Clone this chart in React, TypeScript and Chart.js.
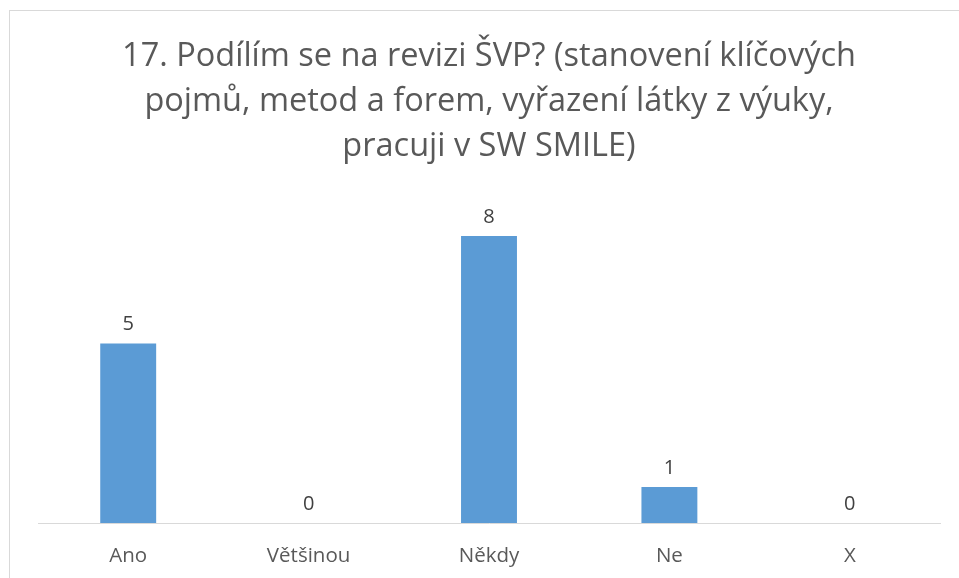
import React, { useEffect, useRef } from "react";
import { Chart, registerables } from "chart.js";

Chart.register(...registerables);

const categories = ["Ano", "Většinou", "Někdy", "Ne", "X"];
const values = [5, 0, 8, 1, 0];
const titleLines = [
  "17. Podílím se na revizi ŠVP? (stanovení klíčových",
  "pojmů, metod a forem, vyřazení látky z výuky,",
  "pracuji v SW SMILE)",
];

const FONT = "'Open Sans', Lato, sans-serif";

const framePlugin = {
  id: "frame",
  beforeDraw(chart: any) {
    const ctx = chart.ctx;
    ctx.save();
    ctx.fillStyle = "#ffffff";
    ctx.fillRect(0, 0, chart.width, chart.height);
    ctx.strokeStyle = "#d9d9d9";
    ctx.lineWidth = 1;
    ctx.strokeRect(9.5, 10.5, 1000, 1000);
    ctx.restore();
  },
};

const labelPlugin = {
  id: "valueLabels",
  afterDatasetsDraw(chart: any) {
    const ctx = chart.ctx;
    const meta = chart.getDatasetMeta(0);
    ctx.save();
    ctx.font = `20px ${FONT}`;
    ctx.fillStyle = "#404040";
    ctx.textAlign = "center";
    ctx.textBaseline = "middle";
    meta.data.forEach((bar: any, i: number) => {
      ctx.fillText(String(values[i]), bar.x, bar.y - 19);
    });
    ctx.restore();
  },
};

export default function App() {
  const ref = useRef<HTMLCanvasElement>(null);
  useEffect(() => {
    if (!ref.current) return;
    const chart = new Chart(ref.current, {
      type: "bar",
      data: {
        labels: categories,
        datasets: [
          {
            data: values,
            backgroundColor: "#5b9bd5",
            categoryPercentage: 1,
            barPercentage: 0.31,
          },
        ],
      },
      options: {
        animation: false,
        responsive: false,
        layout: { padding: { left: 38, right: 19, top: 0, bottom: 0 } },
        plugins: {
          legend: { display: false },
          tooltip: { enabled: false },
          title: {
            display: true,
            text: titleLines,
            color: "#595959",
            font: { family: FONT, size: 32.5, weight: "normal", lineHeight: 1.385 },
            padding: { top: 34, bottom: 31 },
          },
        },
        scales: {
          x: {
            grid: { display: false, drawTicks: false },
            border: { display: true, color: "#d9d9d9", width: 1 },
            ticks: {
              color: "#595959",
              font: { family: FONT, size: 20.5 },
              padding: 21,
            },
            afterFit: (scale: any) => {
              scale.height = 55;
            },
          },
          y: {
            display: false,
            min: 0,
            max: 9,
          },
        },
      },
      plugins: [framePlugin, labelPlugin],
    });
    return () => chart.destroy();
  }, []);
  return (
    <div style={{ position: "fixed", left: 0, top: 0, width: 959, height: 578 }}>
      <canvas ref={ref} width={959} height={578} style={{ width: 959, height: 578 }} />
    </div>
  );
}
